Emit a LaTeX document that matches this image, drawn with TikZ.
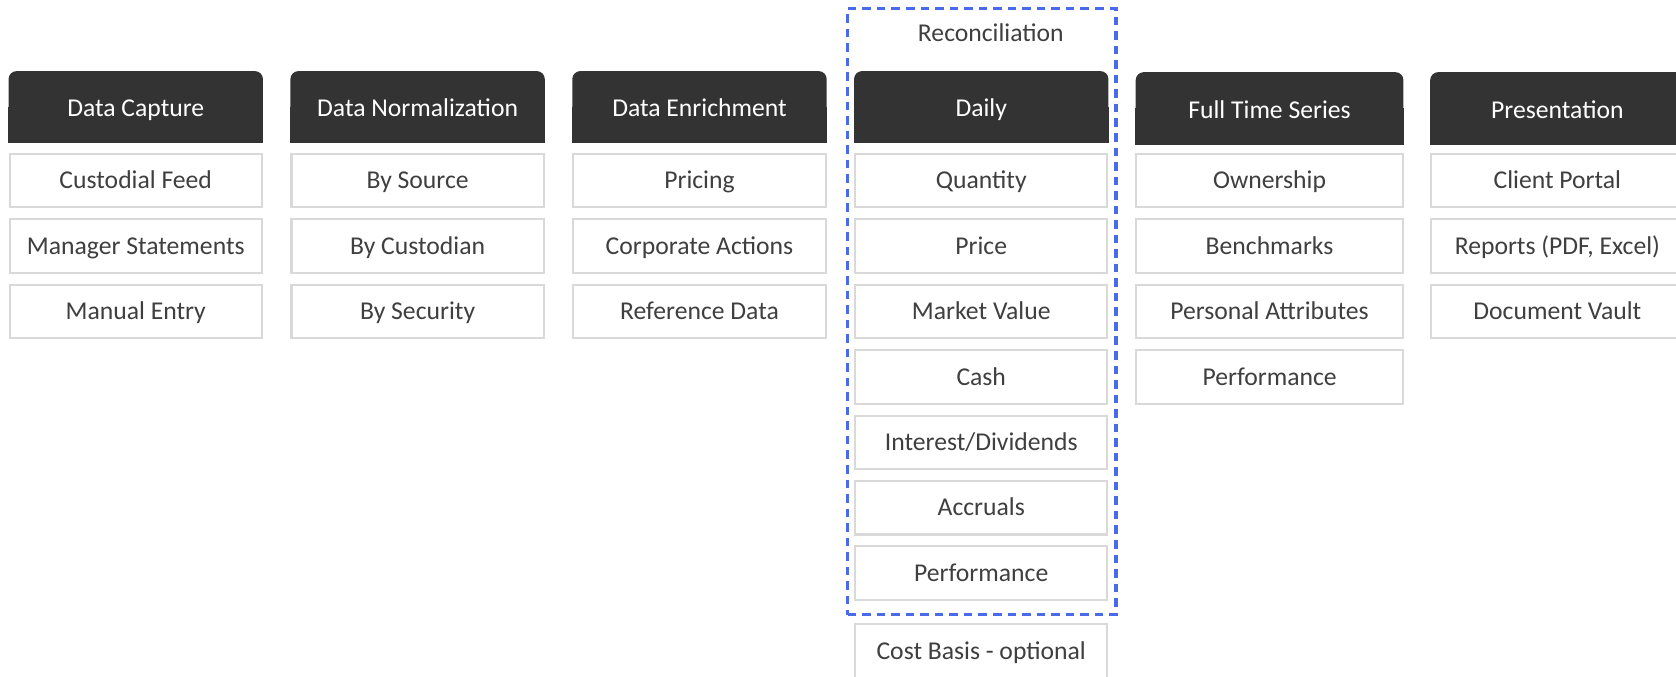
\documentclass[tikz,border=0pt]{standalone}
\usepackage{fontspec}
\setmainfont{Carlito}
\definecolor{hdr}{HTML}{333333}
\definecolor{boxline}{HTML}{D9D9D9}
\definecolor{boxtxt}{HTML}{3F3F3F}
\definecolor{recblue}{RGB}{72,106,235}
\begin{document}
\begin{tikzpicture}[x=0.5pt,y=-0.5pt,
  txt/.style={font=\fontsize{12pt}{14pt}\selectfont,text height=7.6pt,text depth=0pt,inner sep=0pt},
  hdrshape/.style={fill=hdr,rounded corners=3.75pt,inner sep=0pt,minimum width=119pt,minimum height=33.25pt},
  hdrwide/.style={hdrshape,minimum height=33.75pt},
  hdrtext/.style={txt,text=white},
  itembox/.style={txt,draw=boxline,line width=1pt,fill=white,text=boxtxt,minimum width=118pt,minimum height=25pt},
  recframe/.style={draw=recblue,line width=1.5pt,dash pattern=on 4pt off 2.8pt,inner sep=0pt},
  reclabel/.style={txt,text=boxtxt}]
\useasboundingbox (0,0) rectangle (1568,632.5);
% reconciliation frame
\node[recframe,minimum width=125.5pt,minimum height=283.5pt] (rec) at (918.5,291.5) {};
\node[reclabel] (reclab) at (927,31) {Reconciliation};
% header shapes (rounded top, square bottom)
\node[hdrshape] (h1) at (127,99.75) {};
\node[hdrshape] (h2) at (390.7,99.75) {};
\node[hdrshape] (h3) at (654.4,99.75) {};
\node[hdrshape] (h4) at (918,99.75) {};
\node[hdrwide,minimum width=125.25pt] (h5) at (1187.75,101.25) {};
\node[hdrwide] (h6) at (1457,101.25) {};
\foreach \h in {h1,h2,h3,h4,h5,h6}
  \fill[hdr] (\h.west) rectangle (\h.south east);
% header texts
\node[hdrtext] (t1) at ([yshift=-0.75pt]h1.center) {Data Capture};
\node[hdrtext] (t2) at ([yshift=-0.75pt]h2.center) {Data Normalization};
\node[hdrtext] (t3) at ([yshift=-0.75pt]h3.center) {Data Enrichment};
\node[hdrtext] (t4) at ([yshift=-0.75pt]h4.center) {Daily};
\node[hdrtext] (t5) at ([yshift=-0.9pt]h5.center) {Full Time Series};
\node[hdrtext] (t6) at ([yshift=-0.9pt]h6.center) {Presentation};
% column 1
\foreach \i/\t in {1/Custodial Feed,2/Manager Statements,3/Manual Entry}
  \node[itembox] (a\i) at (127,{169+61.2*(\i-1)}) {\t};
% column 2
\foreach \i/\t in {1/By Source,2/By Custodian,3/By Security}
  \node[itembox] (b\i) at (390.7,{169+61.2*(\i-1)}) {\t};
% column 3
\foreach \i/\t in {1/Pricing,2/Corporate Actions,3/Reference Data}
  \node[itembox] (c\i) at (654.4,{169+61.2*(\i-1)}) {\t};
% column 4
\foreach \i/\t in {1/Quantity,2/Price,3/Market Value,4/Cash,5/Interest\slash Dividends,6/Accruals,7/Performance}
  \node[itembox] (d\i) at (918,{169+61.2*(\i-1)}) {\t};
\node[itembox] (d8) at (918,609) {Cost Basis - optional};
% column 5
\foreach \i/\t in {1/Ownership,2/Benchmarks,3/Personal Attributes,4/Performance}
  \node[itembox,minimum width=124.75pt] (e\i) at (1187.75,{169+61.2*(\i-1)}) {\t};
% column 6
\foreach \i/\t in {1/Client Portal,2/{Reports (PDF, Excel)},3/Document Vault}
  \node[itembox] (f\i) at (1457,{169+61.2*(\i-1)}) {\t};
\end{tikzpicture}
\end{document}
